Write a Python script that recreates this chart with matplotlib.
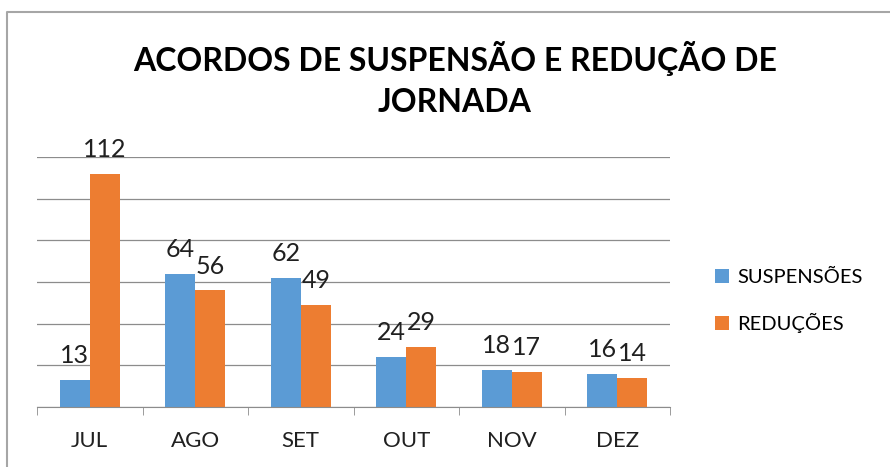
import numpy as np
import matplotlib.pyplot as plt
from matplotlib.lines import Line2D

meses = ['JUL', 'AGO', 'SET', 'OUT', 'NOV', 'DEZ']
suspensoes = [13, 64, 62, 24, 18, 16]
reducoes = [112, 56, 49, 29, 17, 14]

azul = '#5b9bd5'
laranja = '#ed7d31'
plt.rcParams['font.family'] = ['Lato', 'DejaVu Sans']

fig = plt.figure(figsize=(8.9, 4.67), dpi=100)
ax = fig.add_axes([37 / 890, 1 - 407 / 467, (670 - 37) / 890, (407 - 157) / 467])

x = np.arange(len(meses))
w = 0.285
b1 = ax.bar(x - w / 2, suspensoes, w, color=azul, label='SUSPENSÕES')
b2 = ax.bar(x + w / 2, reducoes, w, color=laranja, label='REDUÇÕES')
for bars in (b1, b2):
    ax.bar_label(bars, padding=9, fontsize=18, color='#202020')

ax.set_xlim(-0.5, len(meses) - 0.5)
ax.set_ylim(0, 120)
ax.set_yticks(np.arange(0, 121, 20))
ax.yaxis.grid(True, color='#8c8c8c', linewidth=0.9)
ax.set_axisbelow(True)
ax.tick_params(axis='y', left=False, labelleft=False)
ax.set_xticks(x)
ax.set_xticklabels(meses, fontsize=16, color='#202020')
ax.set_xticks(np.arange(-0.5, len(meses)), minor=True)
ax.tick_params(axis='x', which='major', length=0, pad=17)
ax.tick_params(axis='x', which='minor', length=6, color='#8c8c8c', direction='out')
for s in ['top', 'right', 'left']:
    ax.spines[s].set_visible(False)
ax.spines['bottom'].set_color('#8c8c8c')

fig.text(455 / 890, 1 - 58 / 467, 'ACORDOS DE SUSPENSÃO E REDUÇÃO DE',
         ha='center', va='center', fontsize=23, fontweight='bold')
fig.text(455 / 890, 1 - 103 / 467, 'JORNADA',
         ha='center', va='center', fontsize=23, fontweight='bold')

fig.legend(loc='center left', bbox_to_anchor=(697 / 890, 1 - 301 / 467),
           frameon=False, fontsize=14.5, handlelength=0.7, handleheight=0.7,
           handletextpad=0.4, labelspacing=1.3)

fig.add_artist(Line2D([7 / 890, 7 / 890, 1], [0, 1 - 12 / 467, 1 - 12 / 467],
                      transform=fig.transFigure, color='#a6a6a6', linewidth=1.5))

fig.savefig('out.png', dpi=100)
